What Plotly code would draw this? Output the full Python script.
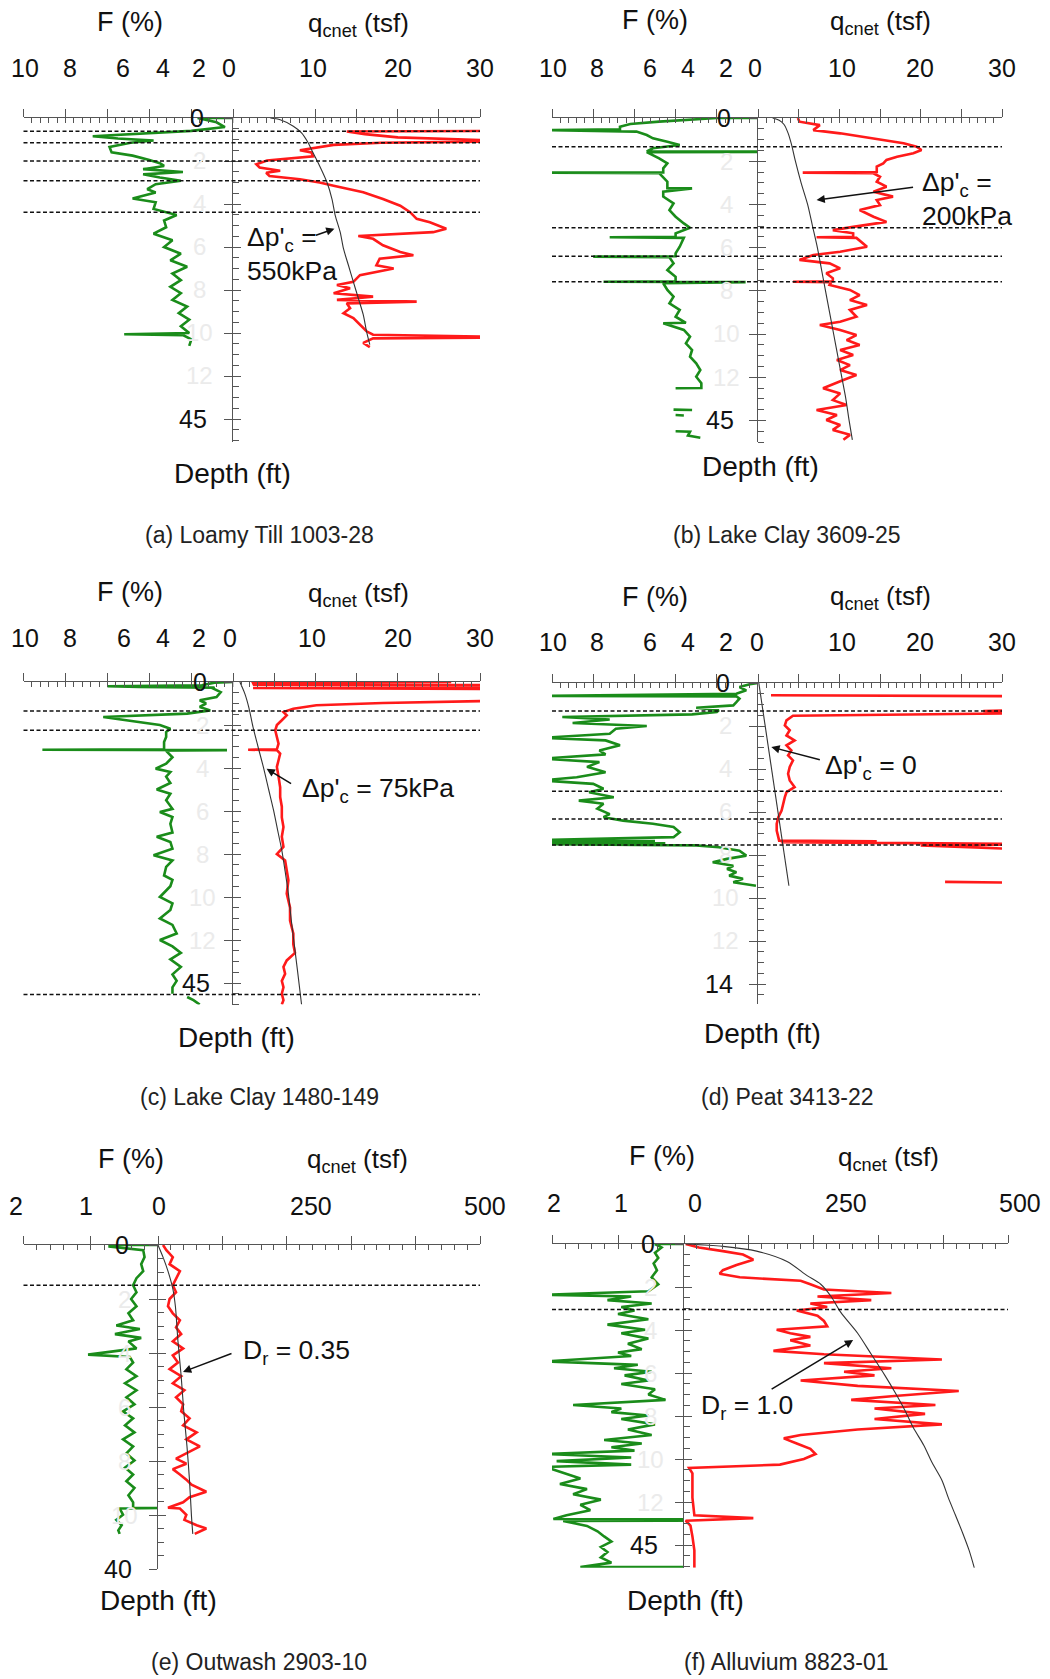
import plotly.graph_objects as go

W, H = 1050, 1679
FONT = "Arial, Liberation Sans, sans-serif"
GREEN = "#1a8c1a"
RED = "#ff1a1a"
AX = "#555555"

# ---------------- data: (depth m, value) ----------------
# (a) Loamy Till
A_FR = [(0,0),(0,1.7),(0.2,0.8),(0.42,0.4),(0.6,2.0),(0.85,6.7),(0.95,5.5),(1.05,3.8),(1.15,4.9),(1.35,5.9),
        (1.6,5.8),(1.75,4.8),(1.95,4.0),(2.1,3.5),(2.23,3.3),(2.38,4.3),(2.51,2.4),(2.62,4.3),(2.77,3.5),(2.92,2.5),
        (3.08,3.7),(3.31,4.1),(3.46,3.7),(3.74,4.8),(3.92,3.7),(4.23,3.8),(4.51,2.7),(4.77,3.3),(5.08,3.2),(5.38,3.8),
        (5.69,2.9),(6.0,3.3),(6.31,2.5),(6.62,3.0),(6.92,2.2),(7.23,2.9),(7.54,2.5),(7.85,3.0),(8.15,2.5),(8.46,2.9),
        (8.77,2.2),(9.08,2.6),(9.38,2.1),(9.69,2.5),(10.0,2.1),(10.06,5.2),(10.1,2.4),(10.3,2.0),(10.6,2.1)]
A_QC = [(0.6,35),(0.63,13.8),(0.75,16),(0.9,20),(1.08,35),(1.15,18),(1.25,12.2),(1.4,9.7),(1.5,8.1),(1.6,9.5),
        (1.78,9.7),(1.98,4.1),(2.15,2.8),(2.3,3.2),(2.45,5.7),(2.55,4.0),(2.7,4.4),(2.85,8.1),(3.0,10.5),(3.15,12.2),
        (3.3,14.2),(3.45,15.8),(3.77,18.2),(4.08,20.3),(4.38,21.5),(4.69,22.3),(4.85,23.9),(5.15,25.9),(5.31,24.3),
        (5.49,15.2),(5.62,17.0),(5.92,18.2),(6.23,20.3),(6.38,21.9),(6.54,17.8),(6.85,17.4),(7.0,19.5),(7.31,15.4),
        (7.62,14.6),(7.77,12.6),(7.92,14.2),(8.15,12.2),(8.31,17.0),(8.46,12.6),(8.54,22.3),(8.62,13.8),(8.85,14.2),
        (9.08,13.4),(9.31,14.6),(9.62,15.4),(9.92,16.2),(10.08,17.0),(10.2,35),(10.25,17.0),(10.46,15.8),(10.66,16.6)]
A_CURVE = [(0,4.5),(0.08,5.7),(0.38,7.3),(0.69,8.3),(1.15,9.1),(1.62,9.7),(2.23,10.5),(3.0,11.4),(3.77,12.0),
           (4.54,12.4),(5.31,13.0),(6.08,13.4),(6.85,14.0),(7.62,14.6),(8.38,15.2),(9.15,15.8),(9.92,16.2),(10.54,16.6)]
A_DASH = [0.62, 1.15, 2.0, 2.92, 4.38]

# (b) Lake Clay 3609-25
B_FR = [(0,0),(0,2.0),(0.17,4.8),(0.28,6.2),(0.4,6.7),(0.52,6.7),(0.56,10.5),(0.59,6.7),(0.63,5.9),(0.79,5.4),
        (0.94,5.1),(1.1,4.4),(1.25,3.8),(1.4,5.1),(1.55,5.4),(1.56,-13),(1.58,5.4),(1.87,4.8),(2.1,4.4),(2.33,4.6),
        (2.52,4.6),(2.53,10.5),(2.55,4.8),(2.95,4.4),(3.25,4.4),(3.26,3.2),(3.41,4.6),(3.64,4.6),(3.95,4.1),(4.26,4.3),
        (4.57,4.0),(4.88,3.6),(5.08,3.3),(5.34,4.0),(5.5,4.0),(5.52,7.2),(5.55,3.6),(5.96,3.8),(6.27,4.0),(6.4,4.0),
        (6.42,8.0),(6.45,4.3),(6.73,4.1),(7.04,4.4),(7.35,4.0),(7.56,4.0),(7.58,7.5),(7.6,0.6),(7.65,4.6),(7.96,4.4),
        (8.27,4.1),(8.58,4.3),(8.89,3.8),(9.2,4.0),(9.48,3.5),(9.5,4.6),(9.81,3.6),(10.12,3.3),(10.43,3.5),(10.74,3.2),
        (11.05,3.3),(11.36,3.0),(11.67,2.8),(11.98,3.0),(12.28,2.75),(12.5,2.75),(12.51,4.0),None,(13.5,4.1),
        (13.52,3.2),None,(13.75,4.0),(13.77,3.6),None,(14.5,4.0),(14.52,3.3),(14.7,3.4),(14.8,2.8)]
B_QC = [(0,4.9),(0.17,5.1),(0.33,7.6),(0.56,6.8),(0.71,10.1),(0.86,12.5),(1.02,15.0),(1.17,17.9),(1.33,19.5),
        (1.48,20.1),(1.63,19.1),(1.79,17.1),(1.94,15.8),(2.1,15.4),(2.25,14.6),(2.5,14.6),(2.53,5.5),(2.56,14.2),
        (2.72,15.0),(2.95,14.6),(3.18,15.8),(3.41,14.2),(3.64,16.6),(3.8,14.6),(4.03,15.0),(4.26,12.5),(4.57,14.2),
        (4.81,15.8),(5.04,11.7),(5.19,9.2),(5.34,11.7),(5.5,11.7),(5.52,7.2),(5.55,12.1),(5.96,13.4),(6.19,10.1),
        (6.34,6.8),(6.57,5.1),(6.73,8.8),(6.96,10.1),(7.19,8.4),(7.42,9.2),(7.56,9.2),(7.58,4.3),(7.6,9.0),(7.73,8.8),
        (7.96,11.3),(8.2,12.5),(8.43,11.3),(8.66,13.4),(8.89,11.3),(9.2,12.1),(9.43,10.1),(9.58,7.6),(9.81,10.1),
        (10.05,12.1),(10.28,10.9),(10.51,12.5),(10.74,10.1),(10.97,11.7),(11.2,9.7),(11.44,11.3),(11.67,10.1),
        (11.9,12.1),(12.13,10.5),(12.51,8.0),(12.75,10.1),(13.06,9.2),(13.29,10.9),(13.52,7.2),(13.75,9.7),
        (13.98,8.4),(14.21,10.1),(14.44,9.2),(14.67,11.3),(14.9,10.5)]
B_CURVE = [(0,1.8),(0.1,2.6),(0.3,3.2),(0.7,3.7),(1.2,4.1),(2.0,4.6),(3.0,5.3),(4.0,6.1),(5.0,6.7),(6.0,7.3),
           (7.0,7.8),(8.0,8.3),(9.0,8.8),(10.0,9.3),(11.0,9.8),(12.0,10.3),(13.0,10.8),(14.0,11.2),(14.9,11.6)]
B_DASH = [1.33, 5.08, 6.4, 7.58]

# (c) Lake Clay 1480-149
C_FR = [(0,0),(0.03,0.9),(0.15,1.5),(0.2,6.0),(0.23,4.5),(0.26,0.9),(0.31,0.95),(0.47,0.6),(0.7,0.8),(0.85,1.6),
        (1.0,1.3),(1.16,1.6),(1.32,1.1),(1.47,2.2),(1.63,6.2),(1.7,5.7),(1.86,4.4),(2.0,3.5),(2.17,3.0),(2.33,3.2),
        (2.56,3.2),(2.79,3.3),(3.13,3.3),(3.15,9.1),(3.17,0.3),(3.2,3.2),(3.5,2.9),(3.8,3.2),(4.03,3.7),(4.19,3.0),
        (4.4,3.2),(4.7,3.0),(5.0,3.65),(5.2,3.0),(5.5,3.2),(5.9,2.9),(6.05,3.5),(6.28,2.9),(6.6,3.0),(7.0,2.9),
        (7.2,3.65),(7.44,3.0),(7.75,2.9),(8.06,3.8),(8.3,2.9),(8.6,3.2),(9.0,3.3),(9.2,2.9),(9.5,3.0),(10.0,3.5),
        (10.3,2.9),(10.6,3.0),(11.0,3.5),(11.3,2.9),(11.7,2.7),(12.0,3.5),(12.3,2.9),(12.6,2.5),(12.9,3.0),
        (13.25,2.5),(13.6,2.9),(13.9,2.7),(14.2,2.9),(14.5,2.9),None,(14.65,2.2),(14.8,1.9),(15.0,1.6)]
C_QC = [(0.0,26.5),(0.04,2.4),(0.12,2.5),(0.15,35),None,(0.26,35),(0.28,2.4),(0.31,2.5),(0.33,35),None,
        (0.85,35),(0.98,18.2),(1.08,10.1),(1.24,7.3),(1.4,6.1),(1.55,6.5),(1.78,5.9),(2.0,5.3),(2.25,5.1),(2.56,5.3),
        (2.87,5.5),(3.13,5.3),(3.15,1.8),(3.17,5.3),(3.33,5.7),(3.64,5.5),(3.95,5.3),(4.4,5.5),(4.9,5.7),(5.35,5.7),
        (5.8,5.9),(6.3,5.9),(6.74,6.1),(7.2,5.9),(7.67,6.1),(8.0,5.3),(8.3,6.3),(8.76,6.5),(9.22,6.7),(9.85,6.5),
        (10.5,6.9),(11.1,6.9),(11.7,7.3),(12.2,7.3),(12.6,7.5),(12.95,6.5),(13.25,6.1),(13.57,6.3),(13.9,5.9),
        (14.2,6.1),(14.5,5.9),(14.8,6.1),(15.0,5.9)]
C_CURVE = [(0,0.8),(0.54,1.4),(1.2,1.9),(2.1,2.4),(3.0,3.0),(3.95,3.65),(5.0,4.3),(5.97,4.9),(7.0,5.45),
           (7.83,5.9),(8.8,6.3),(9.84,6.7),(10.9,7.0),(11.86,7.3),(13.4,7.8),(15.0,8.3)]
C_DASH = [1.35, 2.25, 14.53]

# (d) Peat 3413-22
D_FR = [(0,0),(0.06,0.4),(0.19,0.9),(0.34,0.57),(0.5,1.05),(0.6,10.5),(0.62,1.05),(0.73,0.9),(0.89,1.05),
        (1.04,1.2),(1.15,3.0),(1.27,1.9),(1.35,2.0),(1.46,3.2),(1.58,9.5),(1.7,7.2),(1.86,9.0),(2.0,5.4),(2.13,6.9),
        (2.36,7.2),(2.55,10.5),(2.67,7.4),(2.9,6.7),(3.14,7.7),(3.32,7.4),(3.52,10.5),(3.68,7.7),(3.9,8.3),(4.15,7.4),
        (4.38,8.8),(4.53,10.5),(4.69,8.0),(4.92,7.5),(5.08,8.2),(5.31,7.0),(5.47,8.7),(5.62,7.5),(5.85,7.8),(6.1,7.2),
        (6.24,7.5),(6.4,6.55),(6.55,5.1),(6.7,4.1),(6.94,3.8),(7.17,4.1),(7.3,10.5),(7.35,5.0),(7.4,10.5),(7.45,4.5),
        (7.5,10.5),(7.55,3.0),(7.64,1.9),(7.8,0.9),(8.03,0.57),(8.18,1.5),(8.34,2.2),(8.5,1.2),(8.65,1.5),(8.8,1.05),
        (8.96,1.4),(9.11,0.73),(9.27,1.2),(9.43,0.1)]
D_QC = [(0.57,1.6),(0.62,35),None,(1.24,35),(1.3,27.7),(1.4,35),(1.48,11.7),(1.52,4.3),(1.74,3.5),(1.97,3.3),
        (2.2,3.9),(2.44,3.5),(2.67,4.5),(2.9,3.5),(3.14,4.1),(3.37,3.7),(3.6,4.3),(3.9,3.9),(4.22,3.7),(4.53,3.9),
        (4.84,4.5),(5.08,3.5),(5.31,3.3),(5.62,3.1),(5.93,2.9),(6.24,2.5),(6.55,2.3),(6.86,2.3),(7.17,2.5),(7.33,2.6),
        (7.36,14.6),(7.4,2.8),(7.5,35),(7.55,20),(7.7,30),(7.8,35),None,(9.25,23.0),(9.3,35)]
D_CURVE = [(0,0.1),(9.43,3.8)]
D_DASH = [1.3, 5.03, 6.32, 7.53]

# (e) Outwash 2903-10
E_FR = [(0,0),(0,0.72),(0.06,0.72),(0.19,0.22),(0.45,0.2),(0.71,0.25),(0.97,0.22),(1.23,0.32),(1.49,0.37),
        (1.75,0.32),(2.0,0.4),(2.27,0.32),(2.53,0.44),(2.79,0.37),(2.98,0.62),(3.11,0.27),(3.3,0.64),(3.44,0.25),
        (3.57,0.44),(3.83,0.32),(4.06,1.04),(4.15,0.42),(4.35,0.37),(4.6,0.47),(4.86,0.32),(5.12,0.49),(5.38,0.32),
        (5.64,0.47),(5.9,0.35),(6.16,0.52),(6.42,0.37),(6.68,0.49),(6.94,0.35),(7.2,0.52),(7.46,0.37),(7.72,0.47),
        (7.98,0.35),(8.24,0.49),(8.5,0.37),(8.75,0.47),(9.0,0.35),(9.27,0.44),(9.53,0.37),(9.73,0.37),(9.74,-0.08),
        (9.76,0.57),(9.99,0.52),(10.18,0.62),(10.38,0.54),(10.57,0.59),(10.7,0.57)]
E_QC = [(0,7.8),(0.19,13),(0.45,23),(0.71,18),(0.97,34),(1.23,28),(1.49,23),(1.75,28),(2.0,18),(2.27,15.5),
        (2.53,23),(2.79,34),(3.05,28),(3.3,36),(3.57,23),(3.83,39),(4.09,23),(4.35,31),(4.6,18),(4.86,36),(5.12,23),
        (5.38,41),(5.64,28),(5.9,39),(6.16,36),(6.42,49),(6.68,39),(6.94,60),(7.2,44),(7.46,65),(7.65,49),(7.91,28),
        (8.1,44),(8.3,23),(8.5,34),(8.69,44),(8.88,52),(9.14,75),(9.34,49),(9.53,39),(9.73,15.5),(9.76,34),
        (9.99,44),(10.18,41),(10.38,60),(10.5,75),(10.7,57)]
E_CURVE = [(0,0),(0.45,7.8),(0.97,15.5),(1.62,23),(2.27,27),(3.57,31),(4.86,36),(6.16,40),(7.46,45),(8.75,49),
           (10.05,52),(10.7,54)]
E_DASH = [1.49]

# (f) Alluvium 8823-01
F_FR = [(0,0),(0,0.44),(0.16,0.34),(0.41,0.44),(0.65,0.39),(0.9,0.46),(1.22,0.41),(1.55,0.49),(1.87,0.39),
        (2.2,0.54),(2.36,2.1),(2.44,0.8),(2.61,1.16),(2.77,0.49),(2.93,0.95),(3.09,0.75),(3.26,1.0),(3.5,0.54),
        (3.75,1.16),(3.99,0.59),(4.15,0.95),(4.4,0.54),(4.64,0.85),(4.89,0.64),(5.05,1.0),(5.21,0.8),(5.46,2.1),
        (5.62,0.7),(5.78,1.06),(5.94,0.49),(6.11,0.9),(6.35,0.54),(6.51,0.95),(6.76,0.44),(7.0,0.54),(7.25,0.28),
        (7.49,1.68),(7.65,0.95),(7.82,1.1),(7.98,0.54),(8.14,0.95),(8.39,0.44),(8.63,0.85),(8.88,0.49),(9.12,1.21),
        (9.28,0.64),(9.45,1.1),(9.61,0.75),(9.77,2.1),(9.93,0.8),(10.1,1.93),(10.26,0.8),(10.37,2.1),(10.91,1.57),
        (11.16,1.88),(11.4,1.47),(11.64,1.68),(11.89,1.26),(12.13,1.57),(12.38,1.42),(12.62,1.78),(12.79,1.98),
        (12.83,-6),(12.88,1.83),(13.11,1.47),(13.36,1.31),(13.6,1.21),(13.84,1.1),(14.09,1.26),(14.33,1.16),
        (14.58,1.26),(14.82,1.1),(15.03,1.57),(15.03,0)]
F_QC = [(0,2.6),(0.16,23),(0.33,60),(0.49,91),(0.73,107),(0.98,81),(1.22,60),(1.38,55),(1.55,86),(1.71,180),
        (1.87,195),(2.12,216),(2.28,320),(2.44,206),(2.61,289),(2.77,195),(2.93,221),(3.09,174),(3.34,206),
        (3.58,216),(3.83,221),(3.99,143),(4.15,164),(4.32,195),(4.48,164),(4.72,195),(4.97,138),(5.13,216),
        (5.37,398),(5.54,216),(5.78,320),(5.94,247),(6.11,294),(6.35,180),(6.6,268),(6.84,424),(7.08,320),
        (7.25,258),(7.49,388),(7.65,294),(7.9,372),(8.14,294),(8.39,398),(8.63,268),(8.88,180),(9.04,154),
        (9.28,174),(9.53,195),(9.77,203),(10.0,185),(10.26,148),(10.42,7.8),(10.67,13),(11.0,13),(11.8,13),
        (12.62,16),(12.75,107),(12.87,2.6),(13.1,10),(13.6,13),(14.25,16),(15.06,16)]
F_CURVE = [(0,2.6),(0.11,60),(0.33,112),(0.81,159),(1.47,190),(1.87,211),(2.44,227),(3.18,242),(4.15,268),
           (5.13,289),(6.11,310),(6.92,326),(7.74,341),(8.55,354),(9.36,370),(10.18,383),(10.99,398),(11.81,408),
           (12.62,419),(13.44,430),(14.25,440),(15.06,448)]
F_DASH = [3.05]

# tick label texts
F10_LABELS = ["10", "8", "6", "4", "2", "0"]
F2_LABELS = ["2", "1", "0"]
Q30_LABELS = ["10", "20", "30"]
Q500_LABELS = ["250", "500"]

DP = "\u0394p'<sub>c</sub>"
PANELS = [
    dict(cap="(a) Loamy Till 1003-28", fr=A_FR, qc=A_QC, curve=A_CURVE, dash=A_DASH,
         xl=23.5, x0=233.3, xr=480, ytop=118, pxm=21.5, dmax=15.07, fmax=10, qmax=30,
         fl=F10_LABELS, fl_x=[25, 70, 123, 163, 199, 229], ql=Q30_LABELS, ql_x=[313, 398, 480], lab_y=68,
         t_f=(130, 22), t_q=(358, 25), t_d=(232, 474), t_c=(259, 535), d_x=197, dbot=14, dbot_t="45",
         note=DP + " =<br>550kPa", note_xy=(245, 254), arrow=(12.3, 5.15, -20, 7)),
    dict(cap="(b) Lake Clay 3609-25", fr=B_FR, qc=B_QC, curve=B_CURVE, dash=B_DASH,
         xl=552, x0=758, xr=1002, ytop=118, pxm=21.6, dmax=15.0, fmax=10, qmax=30,
         fl=F10_LABELS, fl_x=[553, 597, 650, 688, 726, 755], ql=Q30_LABELS, ql_x=[842, 920, 1002], lab_y=68,
         t_f=(655, 20), t_q=(880, 22), t_d=(760, 467), t_c=(787, 535), d_x=724, dbot=14, dbot_t="45",
         note=DP + " =<br>200kPa", note_xy=(920, 199), arrow=(7.2, 3.8, 98, -13)),
    dict(cap="(c) Lake Clay 1480-149", fr=C_FR, qc=C_QC, curve=C_CURVE, dash=C_DASH,
         xl=23.5, x0=233.3, xr=480, ytop=682, pxm=21.5, dmax=15.0, fmax=10, qmax=30,
         fl=F10_LABELS, fl_x=[25, 70, 124, 163, 199, 230], ql=Q30_LABELS, ql_x=[312, 398, 480], lab_y=638,
         t_f=(130, 592), t_q=(358, 594), t_d=(237, 1037), t_c=(259, 1097), d_x=200, dbot=14, dbot_t="45",
         note=DP + " = 75kPa", note_xy=(300, 790), arrow=(4.05, 4.03, 26, 16)),
    dict(cap="(d) Peat 3413-22", fr=D_FR, qc=D_QC, curve=D_CURVE, dash=D_DASH,
         xl=552, x0=758, xr=1002, ytop=683, pxm=21.5, dmax=14.95, fmax=10, qmax=30,
         fl=F10_LABELS, fl_x=[553, 597, 650, 688, 726, 757], ql=Q30_LABELS, ql_x=[842, 920, 1002], lab_y=642,
         t_f=(655, 597), t_q=(880, 597), t_d=(762, 1033), t_c=(787, 1097), d_x=723, dbot=14, dbot_t="14",
         note=DP + " = 0", note_xy=(823, 767), arrow=(1.64, 2.98, 50, 13)),
    dict(cap="(e) Outwash 2903-10", fr=E_FR, qc=E_QC, curve=E_CURVE, dash=E_DASH,
         xl=23.5, x0=158, xr=480, ytop=1245, pxm=27.0, dmax=12.0, fmax=2, qmax=500,
         fl=F2_LABELS, fl_x=[16, 86, 159], ql=Q500_LABELS, ql_x=[311, 485], lab_y=1206,
         t_f=(131, 1159), t_q=(357, 1160), t_d=(158, 1600), t_c=(259, 1662), d_x=122, dbot=12, dbot_t="40",
         note="D<sub>r</sub> = 0.35", note_xy=(241, 1352), arrow=(38.8, 4.7, 50, -19)),
    dict(cap="(f) Alluvium 8823-01", fr=F_FR, qc=F_QC, curve=F_CURVE, dash=F_DASH,
         xl=552, x0=684, xr=1008, ytop=1244, pxm=21.5, dmax=15.06, fmax=2, qmax=500,
         fl=F2_LABELS, fl_x=[554, 621, 695], ql=Q500_LABELS, ql_x=[846, 1020], lab_y=1203,
         t_f=(662, 1156), t_q=(888, 1158), t_d=(685, 1600), t_c=(786, 1662), d_x=648, dbot=14, dbot_t="45",
         note="D<sub>r</sub> = 1.0", note_xy=(699, 1407), arrow=(261, 4.47, -83, 50)),
]


def unzip(pairs):
    vals, deps = [], []
    for p in pairs:
        if p is None:
            vals.append(None); deps.append(None)
        else:
            deps.append(p[0]); vals.append(p[1])
    return vals, deps


def axkey(letter, n):
    return f"{letter}axis" + ("" if n == 1 else str(n))


def axref(letter, n):
    return letter if n == 1 else f"{letter}{n}"


def frange(a, b, step):
    out, k = [], 0
    while a + k * step <= b + 1e-9:
        out.append(round(a + k * step, 6)); k += 1
    return out


fig = go.Figure()
layout = dict(width=W, height=H, margin=dict(l=0, r=0, t=0, b=0), paper_bgcolor="white",
              plot_bgcolor="white", showlegend=False, font=dict(family=FONT, color="#111"))
annotations, shapes = [], []


def px(x):
    return x / W


def py(y):
    return 1 - y / H


for p, P in enumerate(PANELS):
    b = 5 * p
    nF, nQ, nFo, nQo = b + 1, b + 2, b + 3, b + 4
    nY, nYo = 2 * p + 1, 2 * p + 2
    xF, xQ, xFo, xQo = (axref("x", n) for n in (nF, nQ, nFo, nQo))
    yY, yYo = axref("y", nY), axref("y", nYo)
    pxF = (P["x0"] - P["xl"]) / P["fmax"]
    f_right = P["fmax"] - (P["xr"] - P["xl"]) / pxF
    ydom = [py(P["ytop"] + P["dmax"] * P["pxm"]), py(P["ytop"])]

    if P["fmax"] == 10:
        f_major = frange(0, 10, 2); f_minor = [v for v in frange(0, 10, 0.4) if abs(v / 2 - round(v / 2)) > 1e-6]
    else:
        f_major = frange(0, 2, 1); f_minor = [v for v in frange(0, 2, 0.2) if abs(v - round(v)) > 1e-6]
    if P["qmax"] == 30:
        q_major = frange(0, 30, 5); q_minor = [v for v in frange(0, 30, 1) if v % 5]
    else:
        q_major = frange(0, 500, 100); q_minor = [v for v in frange(0, 500, 20) if v % 100]
    d_major = frange(0, P["dmax"], 2)
    d_minor = [v for v in frange(0, P["dmax"], 0.5) if abs(v / 2 - round(v / 2)) > 1e-6]

    common = dict(showgrid=False, zeroline=False, showticklabels=False, fixedrange=True,
                  tickcolor=AX, tickwidth=1.2, tickmode="array")
    layout[axkey("x", nF)] = dict(common, domain=[px(P["xl"]), px(P["xr"])], range=[P["fmax"], f_right],
                                  anchor=yY, side="top", showline=True, linecolor=AX, linewidth=1.2,
                                  ticks="outside", ticklen=8, tickvals=f_major,
                                  minor=dict(tickmode="array", tickvals=f_minor, ticks="inside", ticklen=5,
                                             tickcolor=AX, tickwidth=1, showgrid=False))
    layout[axkey("x", nFo)] = dict(common, overlaying=xF, range=[P["fmax"], f_right], anchor=yY, side="top",
                                   showline=False, ticks="inside", ticklen=5, tickvals=f_major)
    layout[axkey("x", nQ)] = dict(common, domain=[px(P["x0"]), px(P["xr"])], range=[0, P["qmax"]],
                                  anchor=yY, side="top", showline=True, linecolor=AX, linewidth=1.2,
                                  ticks="outside", ticklen=8, tickvals=q_major,
                                  minor=dict(tickmode="array", tickvals=q_minor, ticks="inside", ticklen=5,
                                             tickcolor=AX, tickwidth=1, showgrid=False))
    layout[axkey("x", nQo)] = dict(common, overlaying=xQ, range=[0, P["qmax"]], anchor=yY, side="top",
                                   showline=False, ticks="inside", ticklen=5, tickvals=q_major)
    layout[axkey("y", nY)] = dict(common, domain=ydom, range=[P["dmax"], 0], anchor=xQ, side="left",
                                  showline=True, linecolor=AX, linewidth=1.2, ticks="outside", ticklen=8,
                                  tickvals=d_major,
                                  minor=dict(tickmode="array", tickvals=d_minor, ticks="inside", ticklen=6,
                                             tickcolor=AX, tickwidth=1, showgrid=False))
    layout[axkey("y", nYo)] = dict(common, overlaying=yY, range=[P["dmax"], 0], anchor=xQ, side="left",
                                   showline=False, ticks="inside", ticklen=8, tickvals=d_major)

    # dummy traces so overlay axes are drawn
    for xa, ya in ((xFo, yY), (xQo, yY), (xQ, yYo)):
        fig.add_trace(go.Scatter(x=[None], y=[None], xaxis=xa, yaxis=ya, hoverinfo="skip", mode="lines"))

    fv, fd = unzip(P["fr"])
    fig.add_trace(go.Scatter(x=fv, y=fd, xaxis=xF, yaxis=yY, mode="lines",
                             line=dict(color=GREEN, width=2.6), connectgaps=False, hoverinfo="skip"))
    qv, qd = unzip(P["qc"])
    fig.add_trace(go.Scatter(x=qv, y=qd, xaxis=xQ, yaxis=yY, mode="lines",
                             line=dict(color=RED, width=2.6), connectgaps=False, hoverinfo="skip"))
    cv, cd = unzip(P["curve"])
    fig.add_trace(go.Scatter(x=cv, y=cd, xaxis=xQ, yaxis=yY, mode="lines",
                             line=dict(color="#333333", width=1.1, shape="spline", smoothing=0.8),
                             hoverinfo="skip"))

    for d in P["dash"]:
        shapes.append(dict(type="line", xref="paper", yref=yY, x0=px(P["xl"]), x1=px(P["xr"]), y0=d, y1=d,
                           line=dict(color="#111111", width=1.5, dash="4px,2.5px"), layer="above"))

    def txt(s, x, y, size, color="#111", xanchor="center", yref="paper", yv=None, align="center"):
        annotations.append(dict(text=s, x=px(x), y=(py(y) if yv is None else yv), xref="paper", yref=yref,
                                showarrow=False, xanchor=xanchor, yanchor="middle", align=align,
                                font=dict(family=FONT, size=size, color=color)))

    txt("F (%)", *P["t_f"], 27)
    txt("q<sub>cnet</sub> (tsf)", *P["t_q"], 26)
    txt("Depth (ft)", *P["t_d"], 28)
    txt(P["cap"], *P["t_c"], 23, color="#222")
    for s, x in zip(P["fl"], P["fl_x"]):
        txt(s, x, P["lab_y"], 25)
    for s, x in zip(P["ql"], P["ql_x"]):
        txt(s, x, P["lab_y"], 25)
    # depth labels
    txt("0", P["d_x"], 0, 25, yref=yY, yv=0)
    for d in frange(2, P["dbot"] - 2, 2):
        txt(str(int(d)), P["d_x"] + 2, 0, 24, color="#ebebeb", yref=yY, yv=d)
    txt(P["dbot_t"], P["d_x"] - 4, 0, 25, yref=yY, yv=P["dbot"])
    # note text + arrow
    txt(P["note"], *P["note_xy"], 26.5, xanchor="left", align="left")
    hq, hd, ax_, ay_ = P["arrow"]
    annotations.append(dict(x=hq, y=hd, xref=xQ, yref=yY, text="", showarrow=True, ax=ax_, ay=ay_,
                            arrowhead=2, arrowsize=1.1, arrowwidth=1.5, arrowcolor="#111"))

layout["annotations"] = annotations
layout["shapes"] = shapes
fig.update_layout(**layout)
fig.write_html("out.html", config={"displayModeBar": False},
               post_script="document.body.style.margin='0';document.body.style.padding='0';")
